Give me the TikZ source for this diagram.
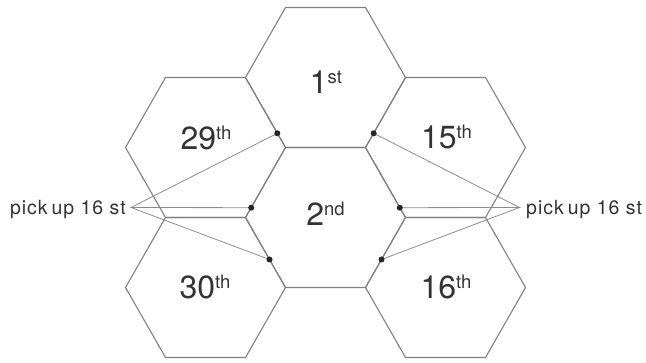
\documentclass[tikz,border=0pt]{standalone}
\usepackage{fontspec}
\setmainfont{TeX Gyre Heros}
\definecolor{hexgray}{HTML}{808080}
\definecolor{leadgray}{HTML}{8C8C8C}
\definecolor{ink}{HTML}{333333}
\tikzset{
  hexedge/.style={draw=hexgray, line width=1.1pt, line join=miter},
  leader/.style={draw=leadgray, line width=0.8pt},
  dotmark/.style={circle, fill=black!85, draw=none, inner sep=0pt, minimum size=6pt},
  hexlabel/.style={anchor=base, inner sep=0pt, text=ink, font=\fontsize{32}{32}\selectfont},
  picklabel/.style={inner sep=0pt, text=ink, font=\fontsize{19.5}{19.5}\selectfont\addfontfeature{LetterSpace=5}}
}
\newcommand\ordsup[1]{\raisebox{10pt}{\fontsize{18.5}{18.5}\selectfont #1}}
\begin{document}
\begin{tikzpicture}[x=1pt,y=-1pt]
\useasboundingbox (0,0) rectangle (646,363);
% hexagons
\foreach \cx/\cy in {325.5/77.5, 325.5/217.5, 205.5/147.5, 445.5/147.5, 205.5/287.5, 445.5/287.5}
  \draw[hexedge] (\cx-40,\cy-70) -- (\cx+40,\cy-70) -- (\cx+80,\cy) -- (\cx+40,\cy+70) -- (\cx-40,\cy+70) -- (\cx-80,\cy) -- cycle;
% labels
\node[hexlabel] (h1)  at (326,94)    {1\ordsup{st}};
\node[hexlabel] (h2)  at (325.5,226) {2\ordsup{nd}};
\node[hexlabel] (h29) at (206,150)   {29\ordsup{th}};
\node[hexlabel] (h15) at (446.5,149) {15\ordsup{th}};
\node[hexlabel] (h30) at (205,299)   {30\ordsup{th}};
\node[hexlabel] (h16) at (446,299)   {16\ordsup{th}};
% pick up labels
\node[picklabel, anchor=base east] (pickL) at (126,214.5) {pick\hspace{0.2em}up 16 st};
\node[picklabel, anchor=base west] (pickR) at (526,214.5) {pick\hspace{0.2em}up 16 st};
\coordinate (apL) at (131,207.5);
\coordinate (apR) at (519.5,207.5);
% dots
\coordinate (dA) at (277.3,133.3);
\coordinate (dB) at (251.2,207.7);
\coordinate (dC) at (269.5,259.5);
\coordinate (eA) at (373.7,133.3);
\coordinate (eB) at (399.8,207.7);
\coordinate (eC) at (381.5,259.5);
% leaders
\draw[leader] (dA) -- (apL) -- (dB);
\draw[leader] (apL) -- (dC);
\draw[leader] (eA) -- (apR) -- (eB);
\draw[leader] (apR) -- (eC);
\foreach \p in {dA,dB,dC,eA,eB,eC}
  \node[dotmark] at (\p) {};
\end{tikzpicture}
\end{document}
